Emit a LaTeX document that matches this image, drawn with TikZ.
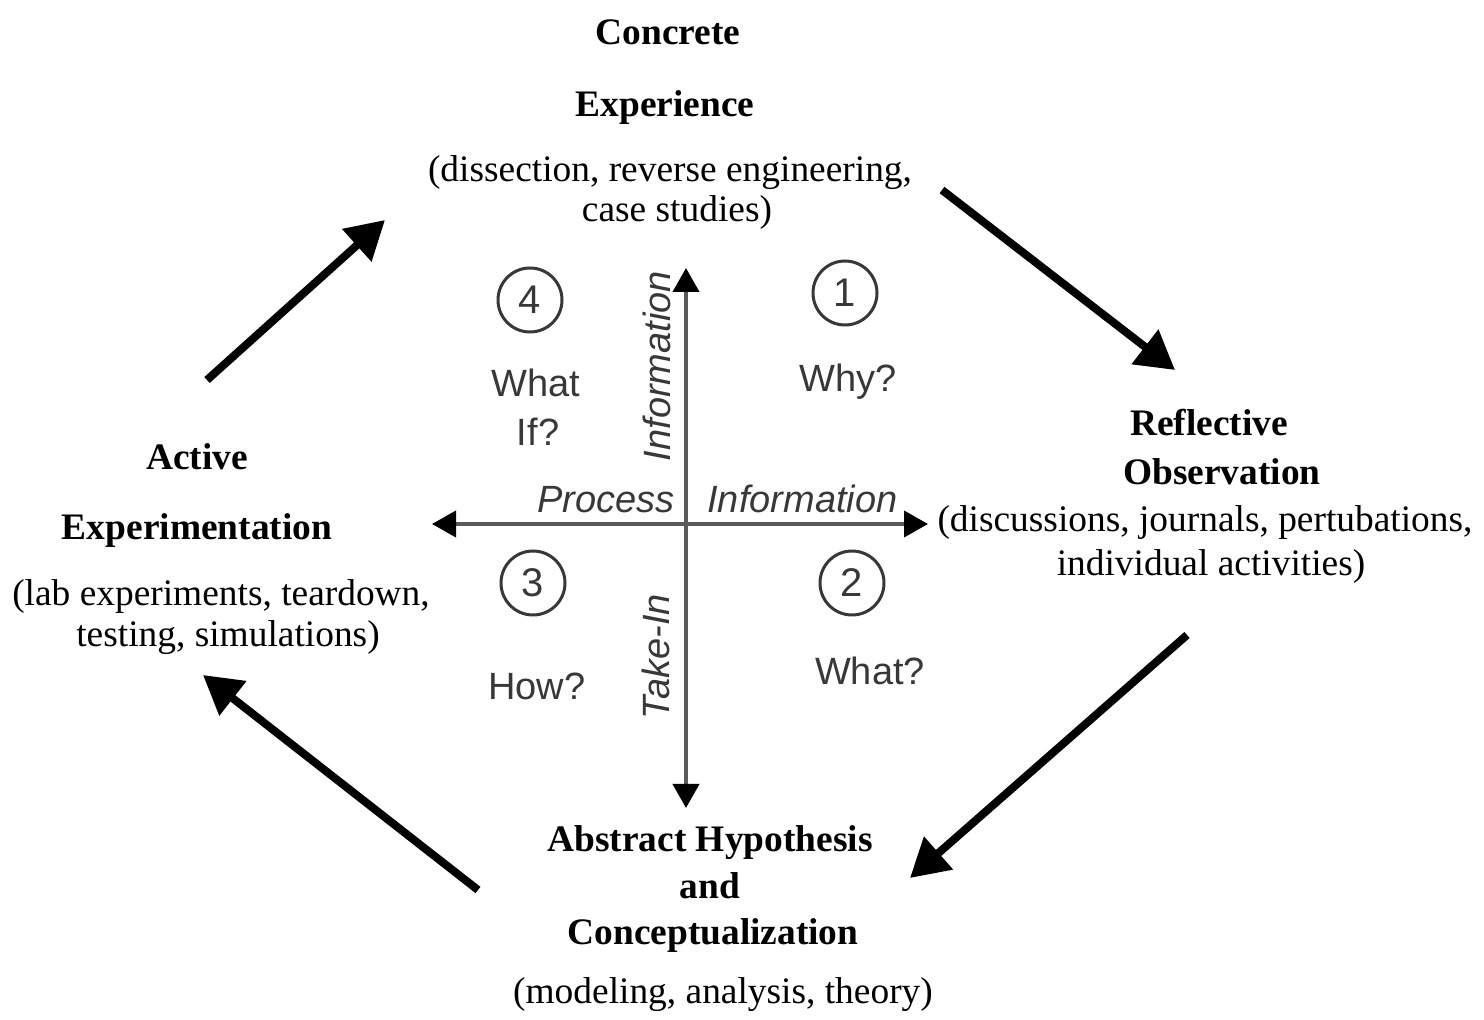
\documentclass[tikz,border=0pt]{standalone}
\usepackage{fontspec}
\setmainfont{Liberation Serif}
\newfontfamily\sansf{Liberation Sans}
\usetikzlibrary{arrows.meta}
\definecolor{axisgray}{HTML}{5A5A5A}
\definecolor{txtgray}{HTML}{383838}
\begin{document}
\begin{tikzpicture}[x=0.5pt,y=-0.5pt,
  title/.style={font=\fontsize{18.7}{22}\selectfont\bfseries, anchor=base, inner sep=0pt},
  desc/.style={font=\fontsize{18.7}{22}\selectfont, anchor=base, inner sep=0pt},
  quest/.style={font=\sansf\fontsize{19}{22}\selectfont, text=txtgray, anchor=base, inner sep=0pt},
  axlabel/.style={font=\sansf\itshape\fontsize{19}{22}\selectfont, text=txtgray, inner sep=0pt},
  num/.style={circle, draw=txtgray, line width=1.5pt, minimum size=32pt, inner sep=0pt, font=\sansf\fontsize{20}{22}\selectfont, text=txtgray},
  axisline/.style={draw=axisgray, line width=2pt, {Triangle[length=12pt,width=13pt,color=black]}-{Triangle[length=12pt,width=13pt,color=black]}},
  bigarrow/.style={draw=black, line width=4pt, -{Triangle[length=19pt,width=21pt]}}
]
\useasboundingbox (0,0) rectangle (1484,1020);

% Concrete Experience
\node[title] (ce1) at (668,45) {Concrete};
\node[title] (ce2) at (665,117) {Experience};
\node[desc] (ce3) at (670,182) {(dissection, reverse engineering,};
\node[desc] (ce4) at (677,222) {case studies)};

% Reflective Observation
\node[title] (ro1) at (1209,436) {Reflective};
\node[title] (ro2) at (1222,485) {Observation};
\node[desc] (ro3) at (1205,532) {(discussions, journals, pertubations,};
\node[desc] (ro4) at (1211,576) {individual activities)};

% Active Experimentation
\node[title] (ae1) at (197,470) {Active};
\node[title] (ae2) at (197,540) {Experimentation};
\node[desc] (ae3) at (221,606) {(lab experiments, teardown,};
\node[desc] (ae4) at (228,647) {testing, simulations)};

% Abstract Hypothesis
\node[title] (ah1) at (710,852) {Abstract Hypothesis};
\node[title] (ah2) at (710,899) {and};
\node[title] (ah3) at (713,945) {Conceptualization};
\node[desc] (ah4) at (723,1003) {(modeling, analysis, theory)};

% axes
\coordinate (axT) at (686,268);
\coordinate (axB) at (686,808);
\coordinate (axL) at (432,524);
\coordinate (axR) at (928,524);
\draw[axisline] (axB) -- (axT);
\draw[axisline] (axL) -- (axR);

\node[axlabel, anchor=base east] (lp) at (675,513) {Process};
\node[axlabel, anchor=base west] (li) at (707,513) {Information};
\node[axlabel, rotate=90] (lv) at (657,366) {Information};
\node[axlabel, rotate=90] (lt) at (656,657) {Take-In};

% quadrants
\node[num] (n4) at (530,300) {4};
\node[num] (n1) at (845,293) {1};
\node[num] (n3) at (533,583) {3};
\node[num] (n2) at (852,583) {2};
\node[quest] (q4a) at (536,397) {What};
\node[quest] (q4b) at (538,446) {If?};
\node[quest] (q1) at (848,392) {Why?};
\node[quest] (q3) at (537,700) {How?};
\node[quest] (q2) at (870,685) {What?};

% cycle arrows
\coordinate (a1s) at (942,190);
\coordinate (a1e) at (1175,370);
\coordinate (a2s) at (1187,635);
\coordinate (a2e) at (910,878);
\coordinate (a3s) at (478,890);
\coordinate (a3e) at (203,675);
\coordinate (a4s) at (207,380);
\coordinate (a4e) at (385,220);
\draw[bigarrow] (a1s) -- (a1e);
\draw[bigarrow] (a2s) -- (a2e);
\draw[bigarrow] (a3s) -- (a3e);
\draw[bigarrow] (a4s) -- (a4e);
\end{tikzpicture}
\end{document}
